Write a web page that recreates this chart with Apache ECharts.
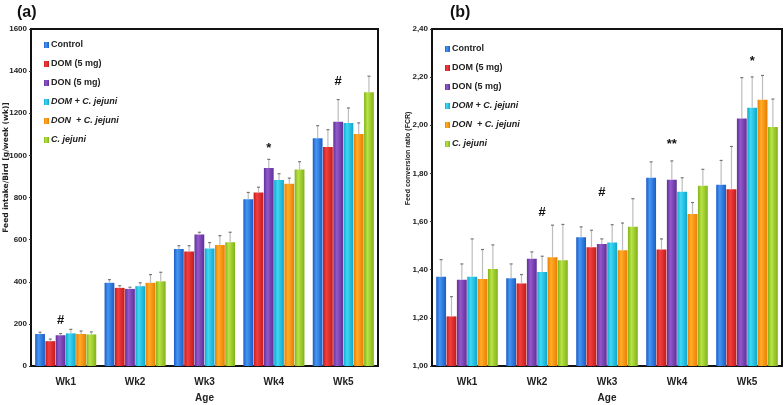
<!DOCTYPE html>
<html>
<head>
<meta charset="utf-8">
<script src="https://cdn.jsdelivr.net/npm/echarts@6/dist/echarts.min.js"></script>
<style>
  html, body { margin: 0; padding: 0; background: #fff; }
  #main { width: 784px; height: 405px; }
</style>
</head>
<body>
<div id="main"></div>
<script>
// data
const weeks = ['Wk1', 'Wk2', 'Wk3', 'Wk4', 'Wk5'];
const groups = ['Control', 'DOM (5 mg)', 'DON (5 mg)', 'DOM + C. jejuni', 'DON  + C. jejuni', 'C. jejuni'];
const italicGroups = ['DOM + C. jejuni', 'DON  + C. jejuni', 'C. jejuni'];

// (a) feed intake, g/week
const intakeControl = [152, 395, 555, 792, 1081];
const intakeDom = [118, 371, 544, 824, 1040];
const intakeDon = [146, 366, 624, 940, 1160];
const intakeDomCj = [155, 379, 558, 883, 1154];
const intakeDonCj = [152, 395, 574, 865, 1102];
const intakeCj = [150, 402, 587, 933, 1300];
// error (upper SD)
const intakeErrControl = [8, 15, 16, 32, 60];
const intakeErrDom = [10, 10, 27, 25, 82];
const intakeErrDon = [8, 8, 11, 41, 105];
const intakeErrDomCj = [19, 16, 28, 30, 71];
const intakeErrDonCj = [14, 39, 45, 27, 52];
const intakeErrCj = [12, 43, 48, 37, 76];

// (b) feed conversion ratio
const fcrControl = [1.371, 1.365, 1.535, 1.782, 1.753];
const fcrDom = [1.206, 1.343, 1.493, 1.484, 1.734];
const fcrDon = [1.358, 1.446, 1.507, 1.774, 2.028];
const fcrDomCj = [1.371, 1.390, 1.513, 1.724, 2.073];
const fcrDonCj = [1.361, 1.452, 1.481, 1.631, 2.106];
const fcrCj = [1.403, 1.439, 1.578, 1.749, 1.993];
const fcrErrControl = [0.071, 0.059, 0.043, 0.066, 0.101];
const fcrErrDom = [0.082, 0.037, 0.071, 0.044, 0.178];
const fcrErrDon = [0.066, 0.028, 0.021, 0.078, 0.170];
const fcrErrDomCj = [0.157, 0.066, 0.074, 0.058, 0.128];
const fcrErrDonCj = [0.123, 0.133, 0.113, 0.048, 0.101];
const fcrErrCj = [0.100, 0.149, 0.117, 0.068, 0.116];

// significance marks: [week, group, value, text]
const intakeMarks = [['Wk1', 'DON (5 mg)', 215, '#'], ['Wk4', 'DON (5 mg)', 1034, '*'], ['Wk5', 'DON (5 mg)', 1350, '#']];
const fcrMarks = [['Wk2', 'DOM + C. jejuni', 1.640, '#'], ['Wk3', 'DON (5 mg)', 1.723, '#'], ['Wk4', 'DON (5 mg)', 1.919, '**'], ['Wk5', 'DOM + C. jejuni', 2.265, '*']];

const intakeData = [intakeControl, intakeDom, intakeDon, intakeDomCj, intakeDonCj, intakeCj];
const intakeErr = [intakeErrControl, intakeErrDom, intakeErrDon, intakeErrDomCj, intakeErrDonCj, intakeErrCj];
const fcrData = [fcrControl, fcrDom, fcrDon, fcrDomCj, fcrDonCj, fcrCj];
const fcrErr = [fcrErrControl, fcrErrDom, fcrErrDon, fcrErrDomCj, fcrErrDonCj, fcrErrCj];

const shades = [
    ['#1b5cc6', '#4596f2'],
    ['#c41a1c', '#f2403f'],
    ['#5f2f96', '#9359cc'],
    ['#10a6cc', '#3fd8f4'],
    ['#ea7c00', '#ffae2a'],
    ['#80b21a', '#b9e344']
];

const FONT = "'Liberation Sans Narrow', 'Liberation Sans', sans-serif";
const CAT_GAP = 0.12;
const BAR_GAP = 0.05;

function gradient(i) {
    return {
        type: 'linear', x: 0, y: 0, x2: 1, y2: 0,
        colorStops: [
            {offset: 0, color: shades[i][0]},
            {offset: 0.35, color: shades[i][1]},
            {offset: 1, color: shades[i][0]}
        ]
    };
}

function barSeries(values, marks, axisIdx) {
    return groups.map((name, i) => ({
        name: name,
        type: 'bar',
        xAxisIndex: axisIdx,
        yAxisIndex: axisIdx,
        barGap: (BAR_GAP * 100) + '%',
        barCategoryGap: (CAT_GAP * 100) + '%',
        itemStyle: {color: gradient(i)},
        data: values[i],
        markPoint: {
            symbol: 'circle',
            symbolSize: 1,
            itemStyle: {color: 'transparent'},
            label: {show: true, position: 'inside', color: '#111', fontSize: 13, fontWeight: 'bold', fontFamily: FONT},
            data: marks.filter(m => m[1] === name).map(m => ({coord: [m[0], m[2]], value: m[3], label: {formatter: m[3]}}))
        }
    }));
}

function errorSeries(values, errs, axisIdx) {
    const items = [];
    values.forEach((vals, s) => vals.forEach((v, c) => items.push([c, s, v, v + errs[s][c]])));
    return {
        type: 'custom',
        xAxisIndex: axisIdx,
        yAxisIndex: axisIdx,
        silent: true,
        z: 5,
        data: items,
        renderItem: function (params, api) {
            const c = api.value(0), s = api.value(1);
            const band = api.size([1, 0])[0];
            const n = groups.length;
            const used = band * (1 - CAT_GAP);
            const bw = used / (n + (n - 1) * BAR_GAP);
            const off = -used / 2 + s * bw * (1 + BAR_GAP) + bw / 2;
            const p0 = api.coord([c, api.value(2)]);
            const p1 = api.coord([c, api.value(3)]);
            const x = p0[0] + off;
            return {
                type: 'group',
                children: [
                    {type: 'line', shape: {x1: x, y1: p0[1], x2: x, y2: p1[1]}, style: {stroke: '#bdbdbd', lineWidth: 1.2}},
                    {type: 'line', shape: {x1: x - 1.5, y1: p1[1], x2: x + 1.5, y2: p1[1]}, style: {stroke: '#777', lineWidth: 1.2}}
                ]
            };
        }
    };
}

function legend(left, top) {
    return {
        orient: 'vertical',
        left: left,
        top: top,
        icon: 'rect',
        itemWidth: 5,
        itemHeight: 6,
        itemGap: 7,
        data: groups,
        formatter: name => italicGroups.indexOf(name) >= 0 ? '{it|' + name + '}' : name,
        textStyle: {
            fontFamily: FONT, fontSize: 9, fontWeight: 'bold', color: '#222', lineHeight: 12, padding: [0, 0, 0, -3],
            rich: {it: {fontFamily: FONT, fontSize: 9, fontWeight: 'bold', fontStyle: 'italic', color: '#222'}}
        }
    };
}

function xAxis(idx) {
    return {
        type: 'category',
        gridIndex: idx,
        data: weeks,
        name: 'Age',
        nameLocation: 'middle',
        nameGap: 27,
        nameMoveOverlap: false,
        nameTextStyle: {fontFamily: FONT, fontSize: 10, fontWeight: 'bold', color: '#222'},
        axisLine: {lineStyle: {color: '#111', width: 2}},
        axisTick: {show: false},
        axisLabel: {fontFamily: FONT, fontSize: 10, fontWeight: 'bold', color: '#222', margin: 11}
    };
}

function yAxis(idx, cfg) {
    return Object.assign({
        type: 'value',
        gridIndex: idx,
        nameLocation: 'middle',
        nameMoveOverlap: false,
        axisLine: {show: true, lineStyle: {color: '#111', width: 2}},
        axisTick: {show: true, length: 2, lineStyle: {color: '#333'}},
        splitLine: {show: false}
    }, cfg);
}

const chart = echarts.init(document.getElementById('main'));
chart.setOption({
    animation: false,
    backgroundColor: '#fff',
    title: [
        {text: '(a)', left: 12, top: 0, textStyle: {fontFamily: "'Liberation Sans', sans-serif", fontSize: 16, fontWeight: 'bold', color: '#111'}},
        {text: '(b)', left: 445, top: 0, textStyle: {fontFamily: "'Liberation Sans', sans-serif", fontSize: 16, fontWeight: 'bold', color: '#111'}}
    ],
    legend: [legend(39, 34), legend(440, 38)],
    grid: [
        {left: 31, right: 406, top: 29, bottom: 39, outerBoundsMode: 'none', containLabel: false, show: true, borderColor: '#111', borderWidth: 2, backgroundColor: '#fff'},
        {left: 432, right: 2, top: 29, bottom: 39, outerBoundsMode: 'none', containLabel: false, show: true, borderColor: '#111', borderWidth: 2, backgroundColor: '#fff'}
    ],
    xAxis: [xAxis(0), xAxis(1)],
    yAxis: [
        yAxis(0, {
            min: 0, max: 1600, interval: 200, name: 'Feed intake/Bird [g/week (wk)]', nameGap: 21,
            nameTextStyle: {fontFamily: "'DejaVu Sans', sans-serif", fontSize: 7.5, fontWeight: 'bold', color: '#222', padding: [0, 0, 0, 60]},
            axisLabel: {fontFamily: FONT, fontSize: 8, fontWeight: 'bold', color: '#222', margin: 4, formatter: v => String(v)}
        }),
        yAxis(1, {
            min: 1.0, max: 2.4, interval: 0.2, name: 'Feed conversion ratio (FCR)', nameGap: 20,
            nameTextStyle: {fontFamily: "'Liberation Sans', sans-serif", fontSize: 7, fontWeight: 'bold', color: '#222', padding: [0, 0, 0, 78]},
            axisLabel: {fontFamily: FONT, fontSize: 8, fontWeight: 'bold', color: '#222', margin: 4,
                formatter: v => v.toFixed(2).replace('.', ',')}
        })
    ],
    series: [
        ...barSeries(intakeData, intakeMarks, 0),
        errorSeries(intakeData, intakeErr, 0),
        ...barSeries(fcrData, fcrMarks, 1),
        errorSeries(fcrData, fcrErr, 1)
    ]
});
</script>
</body>
</html>
